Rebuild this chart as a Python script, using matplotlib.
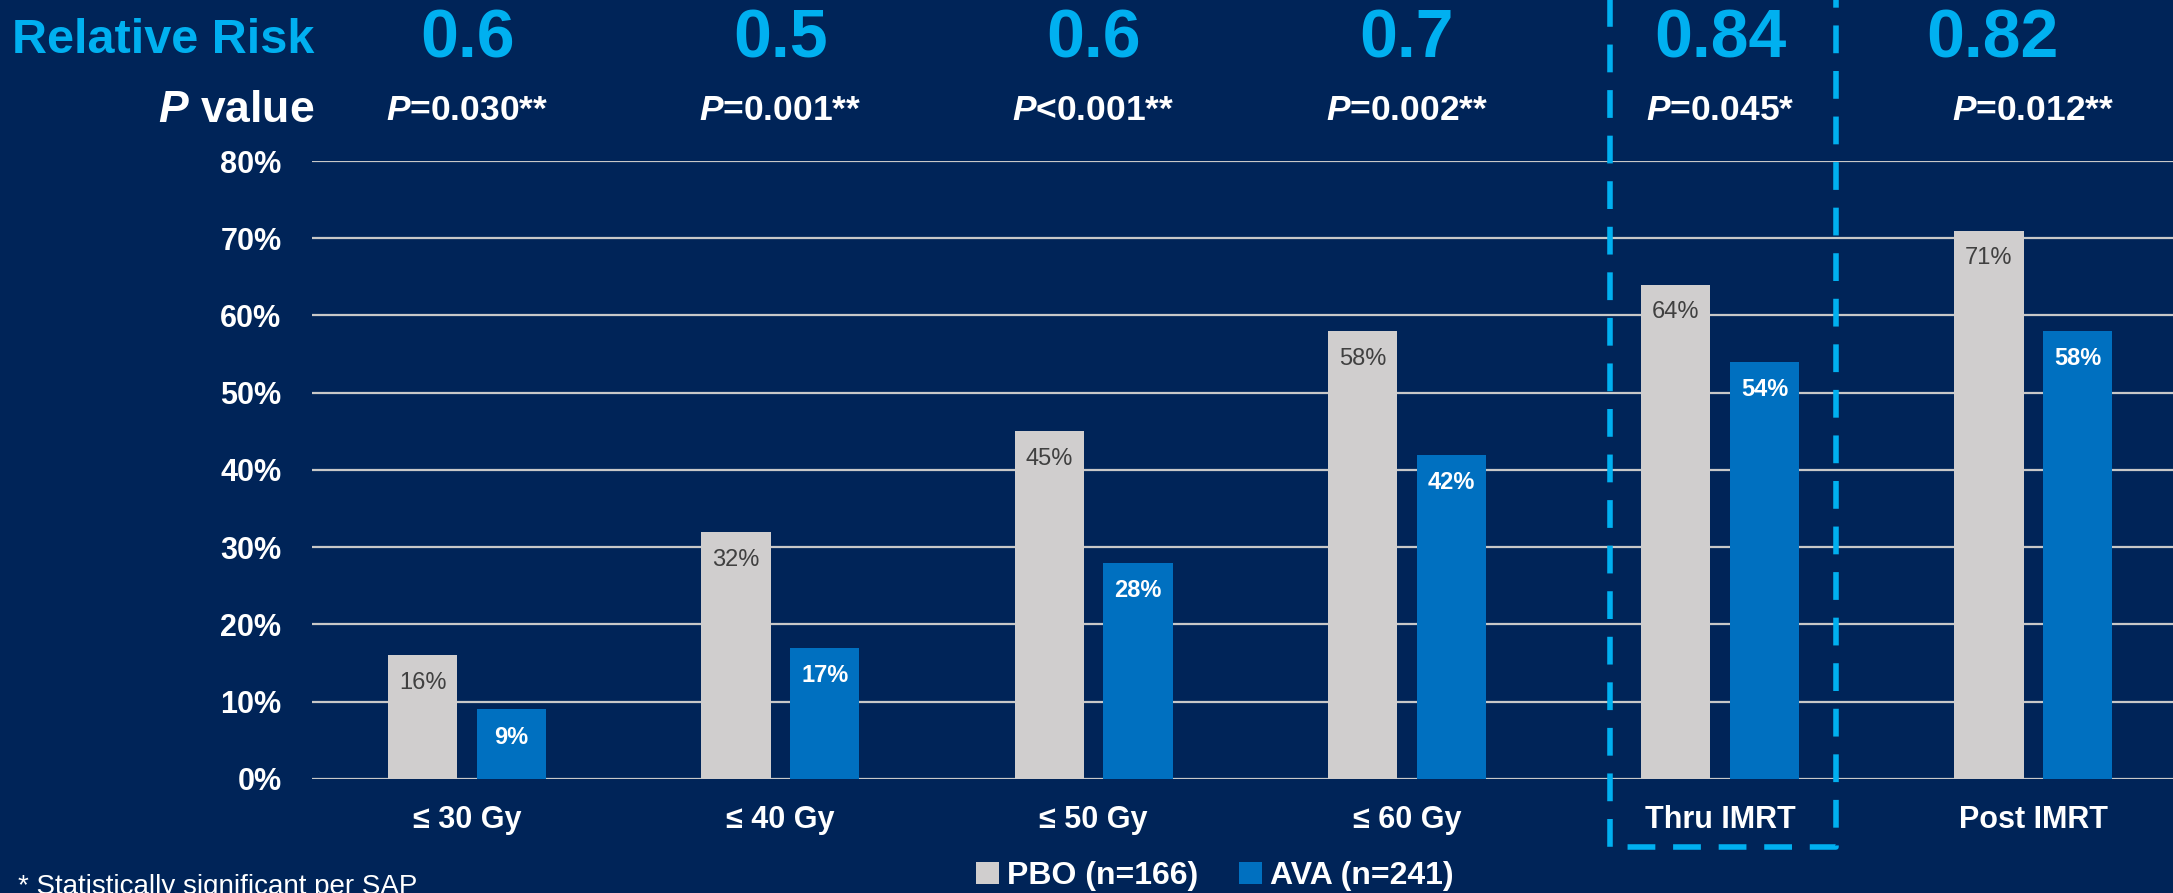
import matplotlib
matplotlib.use("Agg")
import matplotlib.pyplot as plt
import numpy as np
from matplotlib.transforms import blended_transform_factory
from matplotlib.ticker import FuncFormatter

plt.rcParams['font.family'] = ['Liberation Sans', 'DejaVu Sans']
plt.rcParams['mathtext.fontset'] = 'custom'
plt.rcParams['mathtext.it'] = 'Liberation Sans:italic:bold'
plt.rcParams['mathtext.rm'] = 'Liberation Sans:bold'
plt.rcParams['mathtext.bf'] = 'Liberation Sans:bold'

# Data
categories = ["≤ 30 Gy", "≤ 40 Gy", "≤ 50 Gy", "≤ 60 Gy", "Thru IMRT", "Post IMRT"]
pbo_values = [16, 32, 45, 58, 64, 71]
ava_values = [9, 17, 28, 42, 54, 58]
relative_risk = ["0.6", "0.5", "0.6", "0.7", "0.84", "0.82"]
p_values = ["$P$=0.030**", "$P$=0.001**", "$P$<0.001**", "$P$=0.002**", "$P$=0.045*", "$P$=0.012**"]
series_labels = ["PBO (n=166)", "AVA (n=241)"]
yticks = [0, 10, 20, 30, 40, 50, 60, 70, 80]

BG = "#002458"
GRAY = "#D0CECE"
BLUE = "#0070C0"
CYAN = "#00B0F0"

fig = plt.figure(figsize=(21.73, 8.93), dpi=100, facecolor=BG)
ax = fig.add_axes([0.1436, 0.1277, 0.8564, 0.6920], facecolor=BG)

x = np.arange(len(categories))
w = 0.221
off = 0.1415
b1 = ax.bar(x - off, pbo_values, width=w, color=GRAY, zorder=3, label=series_labels[0])
b2 = ax.bar(x + off, ava_values, width=w, color=BLUE, zorder=3, label=series_labels[1])

for xi, v in zip(x - off, pbo_values):
    ax.annotate(f"{v}%", xy=(xi, v), xytext=(0, -20), textcoords="offset points",
                ha="center", va="center", fontsize=17, color="#404040", zorder=4)
for xi, v in zip(x + off, ava_values):
    ax.annotate(f"{v}%", xy=(xi, v), xytext=(0, -20), textcoords="offset points",
                ha="center", va="center", fontsize=17, color="white",
                fontweight="bold", zorder=4)

ax.set_xlim(-0.495, 5.446)
ax.set_ylim(0, 80)
ax.set_yticks(yticks)
ax.yaxis.set_major_formatter(FuncFormatter(lambda v, p: f"{int(v)}%"))
ax.yaxis.grid(True, color="#C8C8C8", linewidth=1.6, zorder=1)
ax.set_axisbelow(True)
for s in ax.spines.values():
    s.set_visible(False)
ax.tick_params(axis="y", length=0, pad=22, labelsize=22, labelcolor="white")
for t in ax.get_yticklabels():
    t.set_fontweight("bold")
ax.set_xticks(x)
ax.set_xticklabels(categories, fontsize=22, fontweight="bold", color="white")
ax.tick_params(axis="x", length=0, pad=19)

# Header rows: relative risk and P values above each group
tr = blended_transform_factory(ax.transData, fig.transFigure)
rr_shift = [0, 0, 0, 0, 0, -0.13]
for xi, rr, pv, sh in zip(x, relative_risk, p_values, rr_shift):
    ax.text(xi + sh, 0.956, rr, transform=tr, ha="center", va="center",
            fontsize=49, fontweight="bold", color=CYAN)
    ax.text(xi, 0.876, pv, transform=tr, ha="center", va="center",
            fontsize=25.5, fontweight="bold", color="white")

fig.text(0.1448, 0.955, "Relative Risk", ha="right", va="center",
         fontsize=35, fontweight="bold", color=CYAN)
fig.text(0.1448, 0.876, "$P$ value", ha="right", va="center",
         fontsize=32, fontweight="bold", color="white")

# Dashed highlight around the "Thru IMRT" group
box_x = [3.649, 3.649, 4.371, 4.371]
box_y = [115, -8.8, -8.8, 115]
ax.plot(box_x, box_y, color=CYAN, linewidth=4, linestyle=(0, (5, 3.2)),
        clip_on=False, zorder=5, solid_capstyle="butt", dash_capstyle="butt")

leg = fig.legend(handles=[b1, b2], labels=series_labels, loc="center",
                 bbox_to_anchor=(0.559, 0.019), ncol=2, frameon=False,
                 handlelength=0.7, handleheight=0.7, handletextpad=0.25,
                 columnspacing=1.3, labelcolor="white",
                 prop={"size": 23, "weight": "bold"})

fig.text(0.0083, 0.021, "* Statistically significant per SAP", ha="left", va="top",
         fontsize=20, color="white")

fig.savefig("out.png", dpi=100, facecolor=BG)
